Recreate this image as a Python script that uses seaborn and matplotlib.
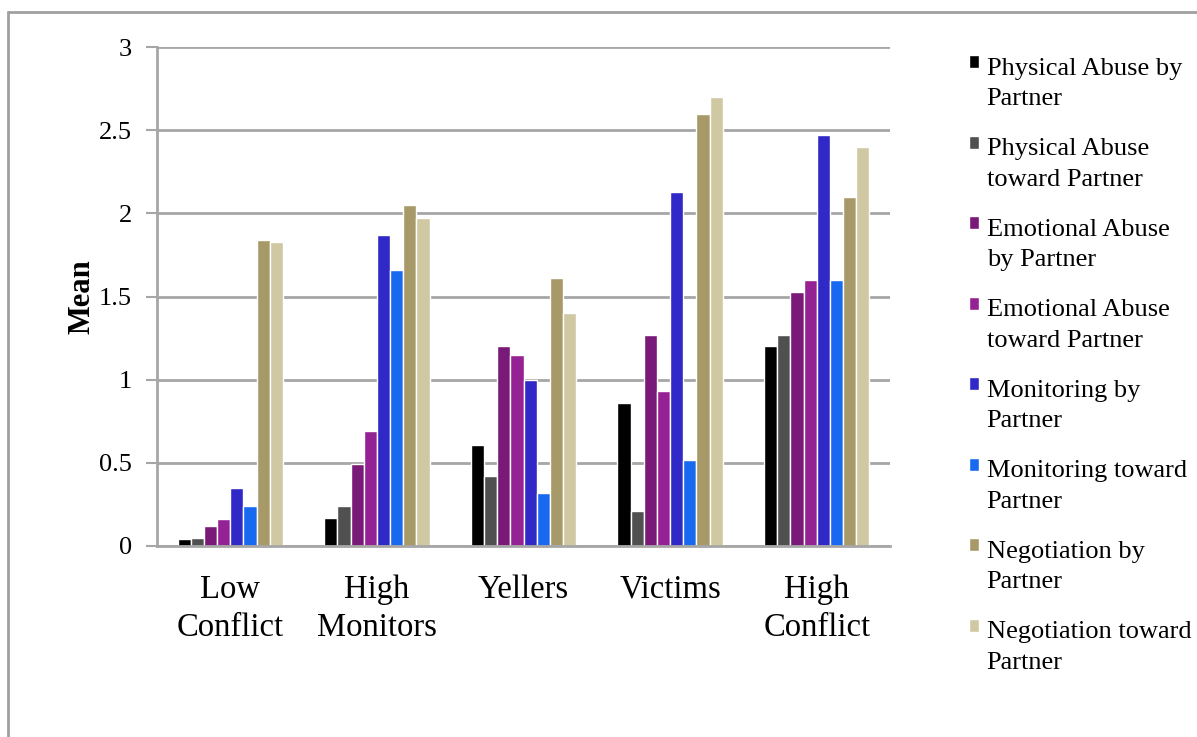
import pandas as pd
import matplotlib.pyplot as plt
import seaborn as sns
from matplotlib.lines import Line2D
from matplotlib.patches import Rectangle
from matplotlib.legend_handler import HandlerPatch

groups = ["Low\nConflict", "High\nMonitors", "Yellers", "Victims", "High\nConflict"]
measures = ["Physical Abuse by\nPartner", "Physical Abuse\ntoward Partner",
            "Emotional Abuse\nby Partner", "Emotional Abuse\ntoward Partner",
            "Monitoring by\nPartner", "Monitoring toward\nPartner",
            "Negotiation by\nPartner", "Negotiation toward\nPartner"]
colors = ["#000000", "#505050", "#7a1a78", "#952294", "#3029c8", "#1869f0", "#a89a68", "#d0c8a2"]

phys_by = [0.04, 0.17, 0.61, 0.86, 1.20]
phys_toward = [0.05, 0.24, 0.42, 0.21, 1.27]
emo_by = [0.12, 0.49, 1.20, 1.27, 1.53]
emo_toward = [0.16, 0.69, 1.15, 0.93, 1.60]
mon_by = [0.35, 1.87, 1.00, 2.13, 2.47]
mon_toward = [0.24, 1.66, 0.32, 0.52, 1.60]
neg_by = [1.84, 2.05, 1.61, 2.60, 2.10]
neg_toward = [1.83, 1.97, 1.40, 2.70, 2.40]

series = [phys_by, phys_toward, emo_by, emo_toward, mon_by, mon_toward, neg_by, neg_toward]
rows = []
for m, vals in zip(measures, series):
    for g, v in zip(groups, vals):
        rows.append({"group": g, "measure": m, "mean": v})
df = pd.DataFrame(rows)

sns.set_style("white")
plt.rcParams["font.family"] = ["Liberation Serif", "DejaVu Serif"]
plt.rcParams["text.color"] = "black"
plt.rcParams["axes.labelcolor"] = "black"

fig = plt.figure(figsize=(11.97, 7.37), dpi=100)
ax = fig.add_axes([157 / 1197, 1 - 546 / 737, (890 - 157) / 1197, (546 - 47) / 737])

sns.barplot(data=df, x="group", y="mean", hue="measure", order=groups, hue_order=measures,
            palette=colors, saturation=1, width=0.72, edgecolor="white", linewidth=1, ax=ax)

ax.set_ylim(0, 3)
ax.set_yticks([0, 0.5, 1, 1.5, 2, 2.5, 3])
ax.set_yticklabels(["0", "0.5", "1", "1.5", "2", "2.5", "3"], fontsize=19)
ax.tick_params(axis="x", labelsize=23.5, length=0, pad=20.5, labelcolor="black")
ax.tick_params(axis="y", length=8, width=1.5, color="#a6a6a6", direction="out", left=True, pad=10,
               labelcolor="black")
for lab in ax.get_xticklabels():
    lab.set_linespacing(1.32)
ax.set_xlabel("")
ax.set_ylabel("Mean", fontsize=22, fontweight="bold", labelpad=2)
ax.yaxis.grid(True, color="#a6a6a6", linewidth=2)
ax.set_axisbelow(True)
for s in ["top", "right"]:
    ax.spines[s].set_visible(False)
for s in ["left", "bottom"]:
    ax.spines[s].set_color("#a6a6a6")
    ax.spines[s].set_linewidth(2)

handles, labels = ax.get_legend_handles_labels()
ax.get_legend().remove()


def top_square(legend, orig_handle, xdescent, ydescent, width, height, fontsize):
    return Rectangle((-xdescent, -ydescent + fontsize * 0.8), width, height)


leg = fig.legend(handles, labels, loc="upper left", bbox_to_anchor=(945 / 1197, 1 - 34 / 737),
                 frameon=False, fontsize=19, handlelength=0.38, handleheight=0.38,
                 handletextpad=0.3, labelspacing=1.06,
                 handler_map={h: HandlerPatch(patch_func=top_square) for h in handles})
for t in leg.get_texts():
    t.set_linespacing(1.5)
    t.set_color("black")

fig.add_artist(Line2D([8 / 1197, 8 / 1197], [0, 1 - 12 / 737], color="#a0a0a0", lw=2))
fig.add_artist(Line2D([8 / 1197, 1], [1 - 12 / 737, 1 - 12 / 737], color="#a0a0a0", lw=2))

fig.savefig("out.png", dpi=100)
